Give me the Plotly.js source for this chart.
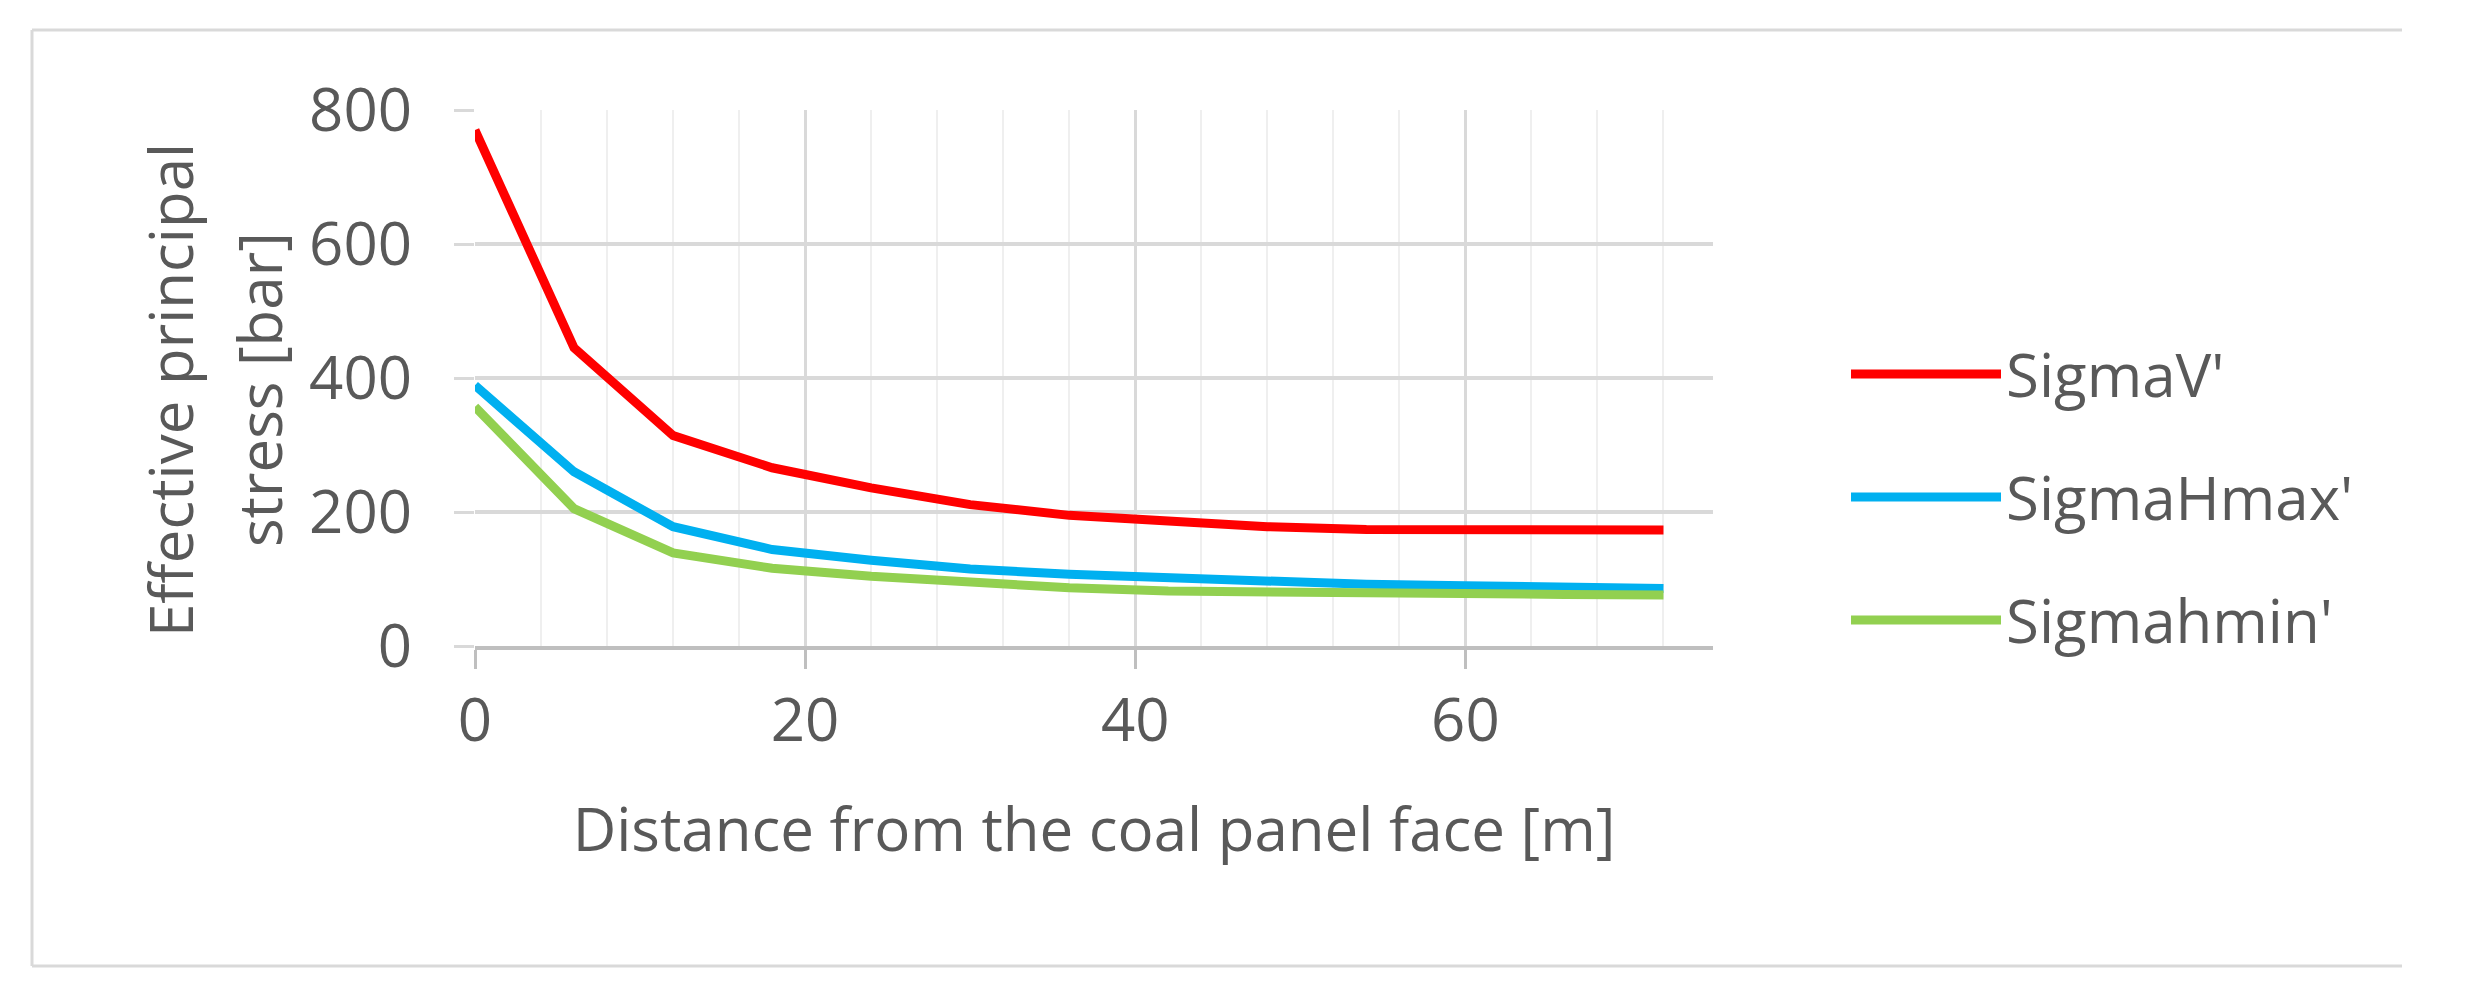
<!DOCTYPE html>
<html>
<head>
<meta charset="utf-8">
<script src="https://cdn.plot.ly/plotly-3.0.1.min.js"></script>
<style>
	html, body { margin: 0; padding: 0; background: #fff; }
	#chart { width: 2482px; height: 993px; }
</style>
</head>
<body>
<div id="chart"></div>
<script>
// distance from the coal panel face [m]
const distance = [0, 6, 12, 18, 24, 30, 36, 42, 48, 54, 60, 66, 72];

// effective principal stresses [bar]
const sigmaV    = [770, 445, 314, 266, 236, 211, 195, 185, 178, 174, 173, 173, 173];
const sigmaHmax = [389, 260, 178, 144, 128, 115, 107, 101, 96, 92, 90, 88, 86];
const sigmahmin = [357, 205, 139, 116, 104, 95, 87, 82, 80, 78, 77, 77, 76];

const seriesNames  = ["SigmaV'", "SigmaHmax'", "Sigmahmin'"];
const seriesColors = ['#ff0000', '#00b0f0', '#92d050'];

const xTicks = [0, 20, 40, 60];
const yTicks = [0, 200, 400, 600, 800];

const FONT = 'Open Sans, sans-serif';
const FS = 60;
const TEXT = '#595959';
const GRID = '#d9d9d9';

// plot area in pixels, used to place the frame and titles
const W = 2482, H = 993;
const M = { l: 475, r: 2482 - 1713, t: 110, b: 993 - 646 };
const pw = W - M.l - M.r, ph = H - M.t - M.b;
const px = x => (x - M.l) / pw;
const py = y => (H - M.b - y) / ph;

const traces = [sigmaV, sigmaHmax, sigmahmin].map((ys, i) => ({
	type: 'scatter',
	mode: 'lines',
	name: seriesNames[i],
	x: distance,
	y: ys,
	legendgroup: 'g' + i,
	cliponaxis: false,
	line: { color: seriesColors[i], width: 9 }
}));

const frameLine = (x0, y0, x1, y1) => ({
	type: 'line', xref: 'paper', yref: 'paper', layer: 'below',
	x0: px(x0), y0: py(y0), x1: px(x1), y1: py(y1),
	line: { color: GRID, width: 3 }
});

const yTitle = (text, x) => ({
	text, xref: 'paper', yref: 'paper',
	x: px(x), y: py(390), xanchor: 'center', yanchor: 'middle',
	textangle: -90, showarrow: false,
	font: { family: FONT, size: FS, color: TEXT }
});

const layout = {
	width: W,
	height: H,
	margin: M,
	paper_bgcolor: '#fff',
	plot_bgcolor: '#fff',
	font: { family: FONT, size: FS, color: TEXT },
	showlegend: true,
	legend: {
		x: px(1846), y: py(497), xanchor: 'left', yanchor: 'middle',
		traceorder: 'grouped', tracegroupgap: 42,
		itemwidth: 150,
		font: { family: FONT, size: FS, color: TEXT },
		bgcolor: 'rgba(0,0,0,0)'
	},
	xaxis: {
		range: [0, 75],
		tickvals: xTicks,
		ticks: 'outside', ticklen: 19, tickwidth: 3, tickcolor: '#bfbfbf',
		showline: true, linecolor: '#bfbfbf', linewidth: 4,
		showgrid: true, gridcolor: GRID, gridwidth: 3,
		zeroline: false,
		minor: { dtick: 4, showgrid: true, gridcolor: '#efefef', gridwidth: 2, ticks: '' },
		tickfont: { family: FONT, size: FS, color: TEXT },
		title: { text: 'Distance from the coal panel face [m]', standoff: 52,
			font: { family: FONT, size: FS, color: TEXT } }
	},
	yaxis: {
		range: [0, 800],
		tickvals: yTicks,
		ticks: 'outside', ticklen: 20, tickwidth: 3, tickcolor: GRID,
		showline: false,
		showgrid: true, gridcolor: GRID, gridwidth: 4,
		zeroline: false,
		ticklabelstandoff: 30,
		tickfont: { family: FONT, size: FS, color: TEXT }
	},
	shapes: [
		frameLine(2402, 30, 32, 30),
		frameLine(32, 30, 32, 966),
		frameLine(32, 966, 2402, 966)
	],
	annotations: [
		yTitle('Effective principal', 170),
		yTitle('stress [bar]', 259)
	]
};

Plotly.newPlot('chart', traces, layout, { staticPlot: true, displayModeBar: false });
</script>
</body>
</html>
